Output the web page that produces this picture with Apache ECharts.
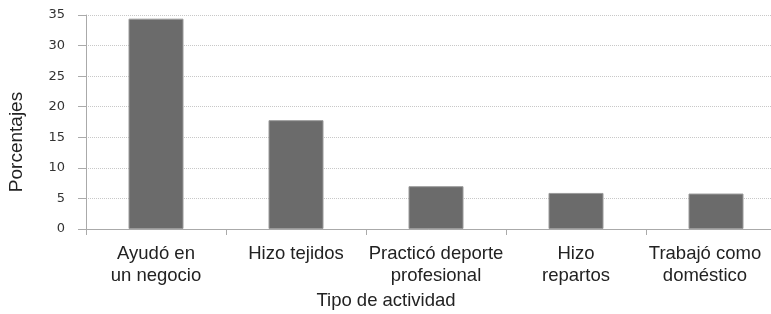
<!DOCTYPE html>
<html><head><meta charset="utf-8">
<script src="https://cdn.jsdelivr.net/npm/echarts@6/dist/echarts.min.js"></script>
<style>html,body{margin:0;padding:0;background:#fff}#c{width:771px;height:314px}</style>
</head><body><div id="c"></div>
<script>
var categories = ["Ayudó en\nun negocio", "Hizo tejidos", "Practicó deporte\nprofesional", "Hizo\nrepartos", "Trabajó como\ndoméstico"];
var values = [34.4, 17.8, 7.0, 5.9, 5.8];
var yTicks = [0, 5, 10, 15, 20, 25, 30, 35];
var chart = echarts.init(document.getElementById('c'), null, {renderer: 'canvas'});
var catData = categories.map(function (c, i) {
  return i === categories.length - 1 ? {value: c, textStyle: {padding: [0, 22, 0, 0]}} : c;
});
chart.setOption({
  animation: false,
  grid: {left: 86, top: 15, width: 700, height: 214, containLabel: false, outerBoundsMode: 'none'},
  xAxis: {
    type: 'category', data: catData,
    name: 'Tipo de actividad', nameLocation: 'middle', nameGap: 62,
    nameTextStyle: {fontFamily: 'Liberation Sans', fontSize: 18.5, color: '#222', padding: [0, 100, 0, 0]},
    axisLine: {lineStyle: {color: '#aaa', width: 1}},
    axisTick: {show: true, length: 6, lineStyle: {color: '#aaa'}},
    axisLabel: {fontFamily: 'Liberation Sans', fontSize: 18.5, color: '#222', margin: 14, lineHeight: 22, interval: 0}
  },
  yAxis: {
    type: 'value', min: 0, max: 35, interval: 5,
    name: 'Porcentajes', nameLocation: 'middle', nameGap: 60, nameRotate: 90,
    nameTextStyle: {fontFamily: 'Liberation Sans', fontSize: 19, color: '#222', padding: [0, 40, 0, 0]},
    axisLine: {show: true, lineStyle: {color: '#aaa', width: 1}},
    axisTick: {show: true, length: 8, lineStyle: {color: '#aaa'}},
    axisLabel: {fontFamily: 'DejaVu Sans', fontSize: 13, color: '#333', margin: 21,
      formatter: function (v) { return yTicks.indexOf(v) >= 0 ? String(v) : ''; }},
    splitLine: {show: true, lineStyle: {color: '#c8c8c8', type: 'dotted', width: 1}}
  },
  series: [{
    type: 'bar', data: values, barWidth: 55,
    itemStyle: {color: '#6b6b6b', borderColor: '#9a9a9a', borderWidth: 1}
  }]
});
</script></body></html>
